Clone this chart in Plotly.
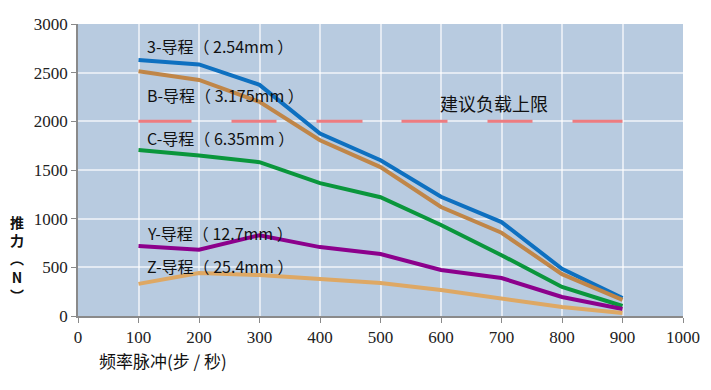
import plotly.graph_objects as go

freq = [100, 200, 300, 400, 500, 600, 700, 800, 900]
lead_3 = [2630, 2585, 2375, 1875, 1600, 1225, 965, 485, 185]
lead_B = [2515, 2425, 2200, 1805, 1530, 1120, 855, 430, 165]
lead_C = [1705, 1650, 1580, 1365, 1220, 935, 625, 298, 103]
lead_Y = [718, 680, 830, 708, 637, 473, 390, 195, 72]
lead_Z = [330, 442, 420, 380, 339, 267, 175, 92, 31]
limit_x = [100, 900]
limit_y = [2000, 2000]

series = [
    ("3-导程（ 2.54mm ）", lead_3, "rgb(14,112,192)"),
    ("B-导程（ 3.175mm ）", lead_B, "rgb(192,134,72)"),
    ("C-导程（ 6.35mm ）", lead_C, "rgb(10,150,60)"),
    ("Y-导程（ 12.7mm ）", lead_Y, "rgb(140,0,140)"),
    ("Z-导程（ 25.4mm ）", lead_Z, "rgb(222,168,100)"),
]
label_y = [2775, 2271, 1829, 853, 514]

# page body has an 8px margin: figure is drawn at (8, 8)
OFF = 8
W, H = 711 - OFF, 390 - OFF
L, R, T, B = 78 - OFF, 28, 24 - OFF, 74
PW, PH = W - L - R, H - T - B
PLOT_LEFT, PLOT_BOTTOM = 78, 316  # in screen pixels


def px(xs):
    return (xs - PLOT_LEFT) / PW


def py(ys):
    return (PLOT_BOTTOM - ys) / PH


TICK_FONT = "Times New Roman, Liberation Serif, DejaVu Serif, serif"

fig = go.Figure()
fig.add_trace(go.Scatter(x=limit_x, y=limit_y, mode="lines",
                         line=dict(color="rgb(238,124,128)", width=3,
                                   dash="53px,40px,45px,40px,46px,39px,46px,40px,45px,40px,50px"),
                         showlegend=False, hoverinfo="skip"))
for name, ys, color in series:
    fig.add_trace(go.Scatter(x=freq, y=ys, mode="lines", name=name,
                             line=dict(color=color, width=4), showlegend=False))

annos = []
for (name, _, _), ly in zip(series, label_y):
    annos.append(dict(x=111, y=ly, xref="x", yref="y", text=name, showarrow=False,
                      xanchor="left", yanchor="middle",
                      font=dict(family="Noto Sans CJK SC", size=16, color="#111")))
annos.append(dict(x=688, y=2189, xref="x", yref="y", text="建议负载上限", showarrow=False,
                  xanchor="center", yanchor="middle",
                  font=dict(family="Noto Sans CJK SC", size=18, color="#111")))
annos.append(dict(x=px(17), y=py(258), xref="paper", yref="paper",
                  text="<b>推<br>力<br>︵<br>N<br>︶</b>",
                  showarrow=False, xanchor="center", yanchor="middle",
                  font=dict(family="Noto Sans CJK SC", size=14, color="#111")))
annos.append(dict(x=px(97), y=py(360), xref="paper", yref="paper",
                  text="频率脉冲(步 / 秒)", showarrow=False, xanchor="left", yanchor="middle",
                  font=dict(family="Noto Sans CJK SC", size=17, color="#111")))

fig.update_layout(
    width=W, height=H,
    margin=dict(l=L, r=R, t=T, b=B),
    paper_bgcolor="white", plot_bgcolor="rgb(184,203,224)",
    annotations=annos,
    font=dict(family=TICK_FONT, size=17, color="#222"),
)

axis_common = dict(showgrid=True, gridcolor="rgba(255,255,255,0.6)", gridwidth=1.5,
                   showline=True, linecolor="#8a8a8a", linewidth=1.5,
                   ticks="outside", ticklen=5, tickcolor="#8a8a8a",
                   zeroline=False, automargin=False,
                   tickfont=dict(family=TICK_FONT, size=17, color="#222"))
fig.update_xaxes(range=[0, 1000], dtick=100, **axis_common)
fig.update_yaxes(range=[0, 3000], dtick=500, **axis_common)

fig.write_html("out.html")
